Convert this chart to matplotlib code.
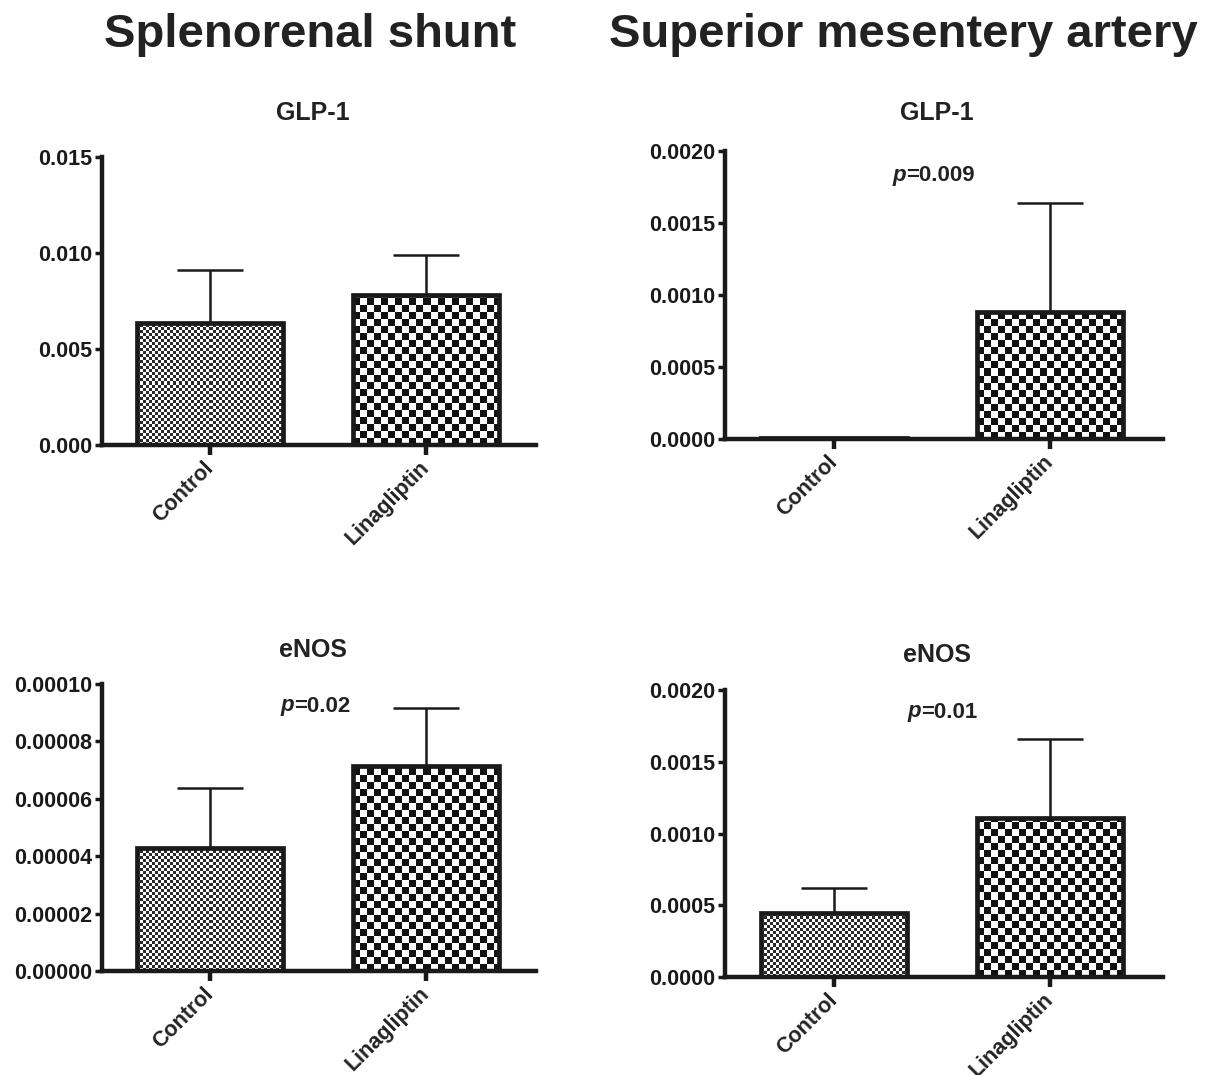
import numpy as np
import matplotlib
matplotlib.use("Agg")
import matplotlib.pyplot as plt
from matplotlib.ticker import FormatStrFormatter

plt.rcParams['font.family'] = ['Liberation Sans', 'DejaVu Sans']
plt.rcParams['font.weight'] = 'bold'

groups = ['Control', 'Linagliptin']

# mean and upper error (SEM)
glp1_sr_mean = [0.00638, 0.00779]
glp1_sr_err = [0.00271, 0.00209]
glp1_sma_mean = [0.00001, 0.000885]
glp1_sma_err = [0.0, 0.000755]
enos_sr_mean = [0.0000429, 0.0000714]
enos_sr_err = [0.0000209, 0.0000202]
enos_sma_mean = [0.000446, 0.00111]
enos_sma_err = [0.000174, 0.00055]

W, H = 1205, 1075
fig = plt.figure(figsize=(W / 100, H / 100), dpi=100)


def px_axes(x0, x1, y0, y1):
    # y0 = top pixel, y1 = bottom pixel
    return fig.add_axes([x0 / W, 1 - y1 / H, (x1 - x0) / W, (y1 - y0) / H])


def checker(ax, x0, x1, top, cell, color):
    # fill a bar with a checkerboard drawn at pixel resolution
    if top <= 0:
        return
    p0 = ax.transData.transform((x0, 0))
    p1 = ax.transData.transform((x1, top))
    nx = max(int(round(p1[0] - p0[0])), 1)
    ny = max(int(round(p1[1] - p0[1])), 1)
    j, i = np.meshgrid(np.arange(nx), np.arange(ny))
    arr = ((i // cell + j // cell) % 2).astype(float)
    cmap = matplotlib.colors.ListedColormap([color, 'white'])
    ax.imshow(arr, extent=(x0, x1, 0, top), origin='lower', cmap=cmap,
              interpolation='nearest', aspect='auto', zorder=1)


def panel(ax, means, errs, top, step, fmt, xlim):
    width = 0.676
    x = np.arange(len(groups))
    ax.set_xlim(*xlim)
    ax.set_ylim(0, top)
    cells = [3, 7]
    colors = ['#2a2a2a', '#111111']
    for k in range(len(groups)):
        checker(ax, x[k] - width / 2, x[k] + width / 2, means[k], cells[k], colors[k])
    ax.bar(x, means, width=width, facecolor='none', edgecolor='#1a1a1a',
           linewidth=3.4, zorder=3)
    for k in range(len(groups)):
        if errs[k] > 0:
            ax.errorbar(x[k], means[k], yerr=[[0], [errs[k]]], fmt='none',
                        ecolor='#1a1a1a', elinewidth=1.8, capsize=24,
                        capthick=1.8, zorder=2)
    ax.set_xticks(x)
    ax.set_xticklabels([])
    for k, g in enumerate(groups):
        ax.annotate(g, xy=(x[k], 0), xycoords=('data', 'axes fraction'),
                    xytext=(0, -20), textcoords='offset pixels',
                    rotation=45, ha='right', va='center', rotation_mode='anchor',
                    fontsize=15.5, fontweight='bold', color='#222222',
                    annotation_clip=False)
    ax.set_yticks(np.arange(0, top + step / 2, step))
    ax.yaxis.set_major_formatter(FormatStrFormatter(fmt))
    for lab in ax.get_yticklabels():
        lab.set_fontsize(15.5)
        lab.set_fontweight('bold')
        lab.set_color('#222222')
    for s in ['top', 'right']:
        ax.spines[s].set_visible(False)
    for s in ['left', 'bottom']:
        ax.spines[s].set_linewidth(3.2)
        ax.spines[s].set_color('#1a1a1a')
    ax.spines['bottom'].set_zorder(4)
    ax.tick_params(axis='x', direction='out', length=7, width=3.2, colors='#1a1a1a')
    ax.tick_params(axis='y', direction='out', length=5, width=2.5, pad=2, colors='#1a1a1a')


ax1 = px_axes(102, 536, 157, 445)
panel(ax1, glp1_sr_mean, glp1_sr_err, 0.015, 0.005, '%.3f', (-0.5, 1.509))
ax2 = px_axes(725, 1163, 151, 439)
panel(ax2, glp1_sma_mean, glp1_sma_err, 0.002, 0.0005, '%.4f', (-0.505, 1.523))
ax3 = px_axes(102, 536, 684, 971)
panel(ax3, enos_sr_mean, enos_sr_err, 0.0001, 0.00002, '%.5f', (-0.5, 1.509))
ax4 = px_axes(725, 1163, 690, 977)
panel(ax4, enos_sma_mean, enos_sma_err, 0.002, 0.0005, '%.4f', (-0.505, 1.523))

# column headers
fig.text(310 / W, 1 - 35 / H, 'Splenorenal shunt', ha='center', va='center',
         fontsize=34, fontweight='bold', color='#222222')
fig.text(903 / W, 1 - 35 / H, 'Superior mesentery artery', ha='center', va='center',
         fontsize=34, fontweight='bold', color='#222222')

# panel titles
for (px, py, t) in [(313, 113, 'GLP-1'), (937, 113, 'GLP-1'),
                    (313, 650, 'eNOS'), (937, 655, 'eNOS')]:
    fig.text(px / W, 1 - py / H, t, ha='center', va='center',
             fontsize=18, fontweight='bold', color='#222222')

# p values
for (px, py, t) in [(906, 175, '=0.009'), (294, 706, '=0.02'), (921, 712, '=0.01')]:
    fig.text(px / W, 1 - py / H, 'p', ha='right', va='center', fontsize=16,
             fontweight='bold', fontstyle='italic', color='#222222')
    fig.text(px / W, 1 - py / H, t, ha='left', va='center', fontsize=16,
             fontweight='bold', color='#222222')

fig.savefig('out.png', dpi=100)
